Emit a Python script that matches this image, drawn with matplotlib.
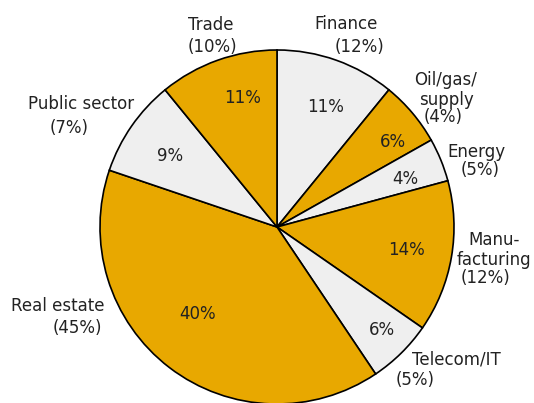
import matplotlib
matplotlib.use("Agg")
import matplotlib.pyplot as plt

# slice values (clockwise from 12 o'clock) and outer labels
sectors = ["Finance", "Oil/gas/\nsupply", "Energy", "Manu-\nfacturing",
           "Telecom/IT", "Real estate", "Public sector", "Trade"]
inner_pct = [11, 6, 4, 14, 6, 40, 9, 11]
outer_pct = [12, 4, 5, 12, 5, 45, 7, 10]

GOLD = "#E8A800"
GREY = "#EFEFEF"
colors = [GREY, GOLD, GREY, GOLD, GREY, GOLD, GREY, GOLD]

W, H = 534, 403
CX, CY, R = 277, 227, 177   # pie centre / radius in pixels (y from top)

# label placement in pixels: (x centre, baseline y from top)
name_pos = [(346, 29), (446, 85), (476, 157), (494, 245),
            (456, 365), (58, 311), (81, 109), (211, 30)]
pct_pos = [(359, 52), (443, 122), (480, 175), (485, 283),
           (415, 385), (77, 333), (69, 133), (212, 52)]
inner_pos = [(326, 112), (393, 147), (405, 184), (406, 255),
             (382, 335), (198, 319), (170, 161), (243, 103)]
LINE_STEP = 20

TXT = "#222222"
FS = 12

fig = plt.figure(figsize=(W / 100, H / 100), dpi=100)
ax = fig.add_axes([0, 0, 1, 1])

wedges, _ = ax.pie(inner_pct, colors=colors, startangle=90, counterclock=False,
                   center=(CX, H - CY), radius=R,
                   wedgeprops=dict(edgecolor="black", linewidth=1.2))

# values inside the slices
for v, (x, y) in zip(inner_pct, inner_pos):
    ax.text(x, H - y, f"{v}%", ha="center", va="baseline", fontsize=FS, color=TXT)

# sector names and shares outside
for name, p, (nx, ny), (px, py) in zip(sectors, outer_pct, name_pos, pct_pos):
    for i, line in enumerate(name.split("\n")):
        ax.text(nx, H - (ny + i * LINE_STEP), line, ha="center", va="baseline",
                fontsize=FS, color=TXT)
    ax.text(px, H - py, f"({p}%)", ha="center", va="baseline", fontsize=FS, color=TXT)

ax.set_xlim(0, W)
ax.set_ylim(0, H)
ax.set_aspect("equal")
ax.axis("off")

fig.savefig("out.png", dpi=100)
